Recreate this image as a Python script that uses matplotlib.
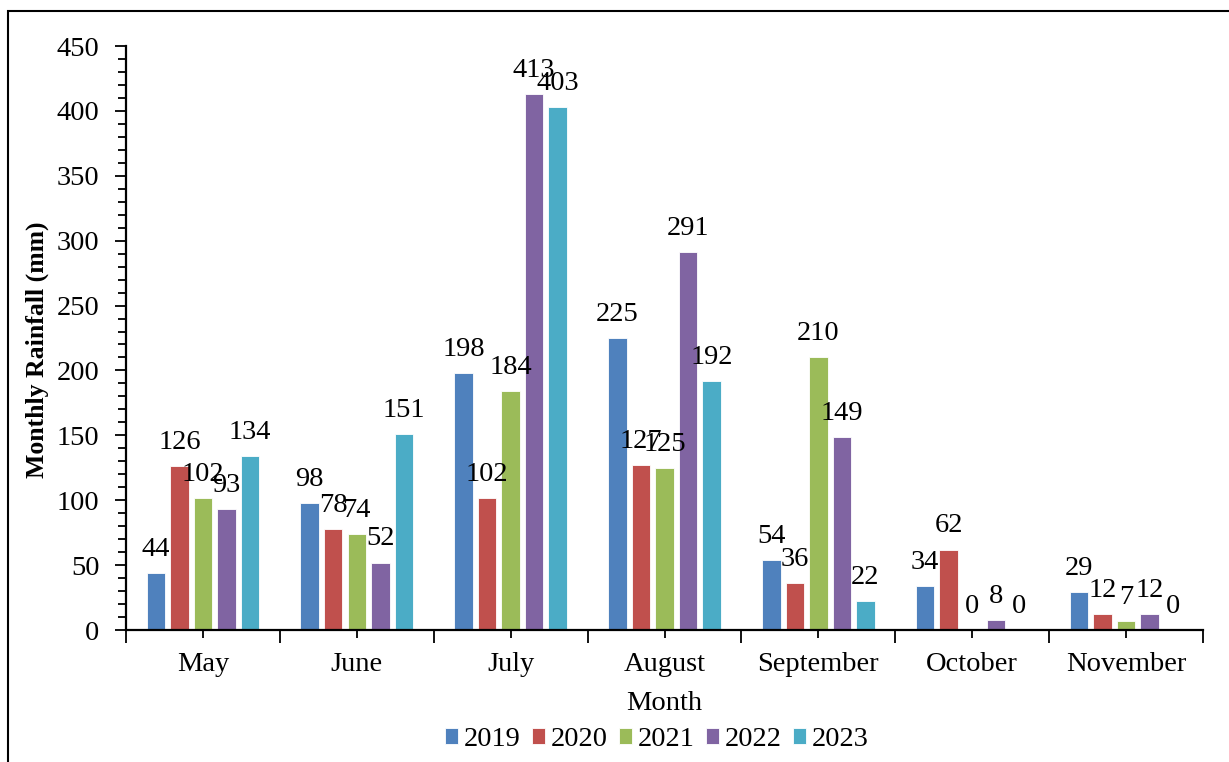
import matplotlib.pyplot as plt
import numpy as np
from matplotlib.patches import Rectangle
from matplotlib.ticker import MultipleLocator, FixedLocator

plt.rcParams['font.family'] = ['Liberation Serif', 'DejaVu Serif']

months = ['May', 'June', 'July', 'August', 'September', 'October', 'November']
years = ['2019', '2020', '2021', '2022', '2023']
rain_2019 = [44, 98, 198, 225, 54, 34, 29]
rain_2020 = [126, 78, 102, 127, 36, 62, 12]
rain_2021 = [102, 74, 184, 125, 210, 0, 7]
rain_2022 = [93, 52, 413, 291, 149, 8, 12]
rain_2023 = [134, 151, 403, 192, 22, 0, 0]
series = [rain_2019, rain_2020, rain_2021, rain_2022, rain_2023]
colours = ['#4F81BD', '#C0504D', '#9BBB59', '#8064A2', '#4BACC6']

fs = 20.5
W, H = 1229, 762
fig = plt.figure(figsize=(W / 100, H / 100), dpi=100)
ax = fig.add_axes([126 / W, 1 - 630 / H, (1203 - 126) / W, (630 - 46) / H])

x = np.arange(len(months))
slot = 0.153
bar_w = 0.12
for i, (vals, yr, col) in enumerate(zip(series, years, colours)):
    pos = x + (i - 2) * slot
    ax.bar(pos, vals, width=bar_w, color=col, edgecolor='white',
           linewidth=0.6, label=yr)
    for p, v in zip(pos, vals):
        ax.annotate(str(v), (p, v), xytext=(0, 8), textcoords='offset points',
                    ha='center', va='bottom', fontsize=fs)

ax.set_xlim(-0.5, len(months) - 0.5)
ax.set_ylim(0, 450)
ax.yaxis.set_major_locator(MultipleLocator(50))
ax.yaxis.set_minor_locator(MultipleLocator(10))
ax.set_xticks(x)
ax.set_xticklabels(months)
ax.xaxis.set_minor_locator(FixedLocator(np.arange(len(months) + 1) - 0.5))

ax.tick_params(axis='both', which='major', labelsize=fs, width=1.3, color='black')
ax.tick_params(axis='x', which='major', length=6, pad=10)
ax.tick_params(axis='x', which='minor', length=9, width=1.3)
ax.tick_params(axis='y', which='major', length=8, pad=11)
ax.tick_params(axis='y', which='minor', length=6, width=1.3)

for s in ['top', 'right']:
    ax.spines[s].set_visible(False)
for s in ['left', 'bottom']:
    ax.spines[s].set_linewidth(1.6)

ax.set_ylabel('Monthly Rainfall (mm)', fontsize=18.5, fontweight='bold', va='center')
ax.yaxis.set_label_coords(-0.0826, 0.48)
ax.set_xlabel('Month', fontsize=fs, va='center')
ax.xaxis.set_label_coords(0.5, -0.125)

ax.legend(loc='center', bbox_to_anchor=(0.493, -0.188), ncol=5, frameon=False,
          fontsize=fs, handlelength=0.46, handleheight=0.46, handletextpad=0.2,
          columnspacing=0.4, borderaxespad=0)

# outer chart frame
fig.patches.append(Rectangle((8 / W, -0.1), 1.2, (H - 11) / H + 0.1,
                             transform=fig.transFigure, fill=False,
                             edgecolor='black', linewidth=1.5))

fig.savefig('out.png', dpi=100)
